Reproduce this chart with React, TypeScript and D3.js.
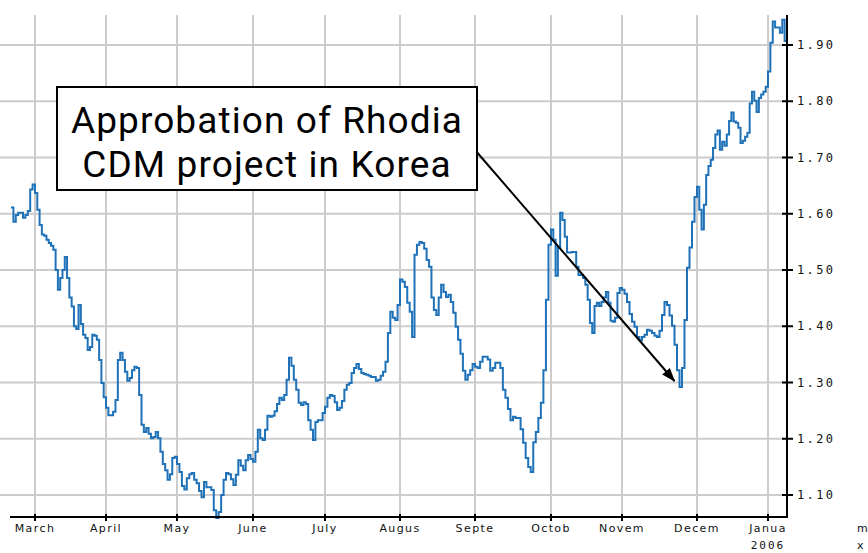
import * as d3 from "d3";

// daily closes, each array starts on the first day of its month (feb starts on the 19th)
const feb = [1.611, 1.586, 1.598, 1.602, 1.602, 1.593, 1.598, 1.605, 1.643, 1.652];
const mar = [1.637, 1.607, 1.58, 1.563, 1.561, 1.554, 1.548, 1.543, 1.536, 1.5, 1.465, 1.486, 1.5, 1.523, 1.486, 1.451, 1.435, 1.4, 1.395, 1.438, 1.404, 1.385, 1.379, 1.358, 1.363, 1.385, 1.383, 1.376, 1.34, 1.299, 1.274];
const apr = [1.255, 1.242, 1.242, 1.248, 1.269, 1.34, 1.353, 1.34, 1.319, 1.303, 1.308, 1.322, 1.328, 1.326, 1.278, 1.225, 1.212, 1.219, 1.209, 1.201, 1.203, 1.212, 1.201, 1.177, 1.155, 1.144, 1.127, 1.137, 1.166, 1.168];
const may = [1.155, 1.141, 1.116, 1.11, 1.13, 1.137, 1.139, 1.127, 1.121, 1.107, 1.096, 1.123, 1.114, 1.114, 1.109, 1.073, 1.059, 1.07, 1.1, 1.127, 1.139, 1.137, 1.128, 1.118, 1.136, 1.162, 1.152, 1.144, 1.162, 1.171, 1.164];
const jun = [1.159, 1.177, 1.216, 1.201, 1.198, 1.216, 1.241, 1.239, 1.241, 1.249, 1.262, 1.273, 1.269, 1.278, 1.305, 1.344, 1.33, 1.305, 1.287, 1.264, 1.26, 1.265, 1.262, 1.233, 1.216, 1.198, 1.23, 1.233, 1.233, 1.246];
const jul = [1.257, 1.273, 1.278, 1.276, 1.265, 1.251, 1.255, 1.267, 1.287, 1.296, 1.299, 1.317, 1.326, 1.333, 1.324, 1.317, 1.315, 1.314, 1.312, 1.31, 1.31, 1.303, 1.305, 1.312, 1.319, 1.337, 1.388, 1.426, 1.415, 1.411, 1.438];
const aug = [1.483, 1.479, 1.47, 1.442, 1.426, 1.381, 1.527, 1.545, 1.55, 1.548, 1.538, 1.518, 1.506, 1.451, 1.429, 1.42, 1.451, 1.474, 1.461, 1.452, 1.456, 1.443, 1.424, 1.399, 1.376, 1.351, 1.321, 1.305, 1.314, 1.322, 1.333];
const sep = [1.328, 1.326, 1.337, 1.346, 1.346, 1.341, 1.321, 1.326, 1.335, 1.335, 1.326, 1.287, 1.273, 1.253, 1.233, 1.239, 1.237, 1.237, 1.217, 1.193, 1.166, 1.15, 1.141, 1.194, 1.212, 1.237, 1.264, 1.322, 1.447, 1.545];
const oct = [1.572, 1.554, 1.49, 1.54, 1.602, 1.589, 1.559, 1.531, 1.531, 1.532, 1.532, 1.506, 1.491, 1.491, 1.486, 1.474, 1.447, 1.406, 1.388, 1.436, 1.442, 1.436, 1.443, 1.451, 1.461, 1.442, 1.41, 1.408, 1.415, 1.459, 1.468];
const nov = [1.465, 1.458, 1.443, 1.422, 1.408, 1.399, 1.381, 1.375, 1.381, 1.385, 1.394, 1.392, 1.388, 1.383, 1.381, 1.392, 1.42, 1.443, 1.438, 1.419, 1.401, 1.367, 1.322, 1.292, 1.326, 1.411, 1.504, 1.54, 1.586, 1.63];
const dec = [1.648, 1.607, 1.572, 1.616, 1.669, 1.685, 1.696, 1.717, 1.741, 1.748, 1.714, 1.728, 1.721, 1.741, 1.765, 1.78, 1.764, 1.762, 1.753, 1.726, 1.73, 1.737, 1.744, 1.796, 1.817, 1.801, 1.781, 1.806, 1.812, 1.817, 1.826];
const jan = [1.853, 1.904, 1.942, 1.931, 1.931, 1.922, 1.945, 1.907, 1.9];

const monthLabels = ["March", "April", "May", "June", "July", "Augus", "Septe", "Octob", "Novem", "Decem", "Janua"];
const yTicks = [1.1, 1.2, 1.3, 1.4, 1.5, 1.6, 1.7, 1.8, 1.9];
const noteLines = ["Approbation of Rhodia", "CDM project in Korea"];

// trading-day axis: month starts are not evenly spaced, so the time scale is piecewise
const axisDates = ["2005-02-19", "2005-03-01", "2005-04-01", "2005-05-01", "2005-06-01", "2005-07-01", "2005-08-01", "2005-09-01", "2005-10-01", "2005-11-01", "2005-12-01", "2006-01-01", "2006-01-09"];
const axisStops = [11, 35, 106, 177, 253, 325, 400, 475, 551, 622, 697, 768, 787];

const months = [
  { y: 2005, m: 1, first: 19, values: feb },
  { y: 2005, m: 2, first: 1, values: mar },
  { y: 2005, m: 3, first: 1, values: apr },
  { y: 2005, m: 4, first: 1, values: may },
  { y: 2005, m: 5, first: 1, values: jun },
  { y: 2005, m: 6, first: 1, values: jul },
  { y: 2005, m: 7, first: 1, values: aug },
  { y: 2005, m: 8, first: 1, values: sep },
  { y: 2005, m: 9, first: 1, values: oct },
  { y: 2005, m: 10, first: 1, values: nov },
  { y: 2005, m: 11, first: 1, values: dec },
  { y: 2006, m: 0, first: 1, values: jan }
];

type Point = { date: Date; value: number };

export default function App() {
  const width = 868;
  const height = 553;
  const top = 15;
  const bottom = 517;
  const right = 787;

  const parse = d3.timeParse("%Y-%m-%d");
  const x = d3
    .scaleTime()
    .domain(axisDates.map((d) => parse(d) as Date))
    .range(axisStops);
  const y = d3.scaleLinear().domain([1.1, 1.9]).range([495, 45]);

  const series: Point[] = months.flatMap((mo) =>
    mo.values.map((v, i) => ({ date: new Date(mo.y, mo.m, mo.first + i), value: v }))
  );

  const line = d3
    .line<Point>()
    .x((d) => x(d.date))
    .y((d) => y(d.value))
    .curve(d3.curveStepAfter);

  const monthTicks = x.ticks(d3.timeMonth.every(1)).filter((d) => d.getDate() === 1);
  const fmt = d3.format(".2f");

  // arrow points at the November low
  const low = series
    .filter((d) => d.date.getMonth() === 10)
    .reduce((a, b) => (b.value < a.value ? b : a));
  const box = { x: 57, y: 87, w: 420, h: 103 };
  const tipX = x(low.date) - 5;
  const tipY = y(low.value) - 6;

  const tickFont = "'DejaVu Sans Mono', monospace";

  return (
    <svg
      width={width}
      height={height}
      viewBox={`0 0 ${width} ${height}`}
      style={{ position: "absolute", left: 0, top: 0, background: "#ffffff" }}
    >
      <defs>
        <marker id="arrowhead" markerWidth="14" markerHeight="10" refX="13" refY="5" orient="auto" markerUnits="userSpaceOnUse">
          <path d="M0,0 L14,5 L0,10 Z" fill="#000" />
        </marker>
      </defs>
      <rect x={0} y={0} width={width} height={height} fill="#ffffff" />

      {yTicks.map((t) => (
        <line key={`gy-${t}`} x1={0} x2={right} y1={y(t)} y2={y(t)} stroke="#cccccc" strokeWidth={2} />
      ))}
      {monthTicks.map((d) => (
        <line key={`gx-${+d}`} x1={x(d)} x2={x(d)} y1={top} y2={bottom} stroke="#cccccc" strokeWidth={2} />
      ))}

      <path d={line(series) ?? ""} fill="none" stroke="#1f72b8" strokeWidth={2} />

      <line x1={10} x2={right + 1} y1={bottom} y2={bottom} stroke="#000" strokeWidth={2} />
      <line x1={right} x2={right} y1={top} y2={bottom + 1} stroke="#000" strokeWidth={2} />

      {monthTicks.map((d, i) => (
        <g key={`mt-${+d}`}>
          <line x1={x(d)} x2={x(d)} y1={bottom - 3} y2={bottom + 4} stroke="#000" strokeWidth={2} />
          <text
            x={x(d)}
            y={532}
            textAnchor="middle"
            fontFamily="'DejaVu Sans', sans-serif"
            fontSize={11}
            letterSpacing={1.4}
            fill="#111"
          >
            {monthLabels[i]}
          </text>
        </g>
      ))}
      <text x={x(monthTicks[monthTicks.length - 1])} y={549} textAnchor="middle" fontFamily={tickFont} fontSize={11} letterSpacing={2} fill="#111">
        2006
      </text>

      {yTicks.map((t) => (
        <g key={`yt-${t}`}>
          <line x1={right - 5} x2={right + 6} y1={y(t)} y2={y(t)} stroke="#000" strokeWidth={2} />
          <text x={797} y={y(t) + 4} fontFamily={tickFont} fontSize={12} letterSpacing={2.4} fill="#111">
            {fmt(t)}
          </text>
        </g>
      ))}

      <text x={857} y={532} fontFamily="'DejaVu Sans', sans-serif" fontSize={11} fill="#111">m</text>
      <text x={857} y={549} fontFamily="'DejaVu Sans', sans-serif" fontSize={11} fill="#111">x</text>

      <line
        x1={box.x + box.w - 2}
        y1={box.y + 63}
        x2={tipX}
        y2={tipY}
        stroke="#000"
        strokeWidth={2}
        markerEnd="url(#arrowhead)"
      />
      <rect x={box.x} y={box.y} width={box.w} height={box.h} fill="#ffffff" stroke="#000" strokeWidth={2} />
      {noteLines.map((t, i) => (
        <text
          key={t}
          x={box.x + box.w / 2}
          y={box.y + 46 + i * 44}
          textAnchor="middle"
          fontFamily="Roboto, sans-serif"
          fontSize={37}
          letterSpacing={1.1}
          fill="#000"
        >
          {t}
        </text>
      ))}
    </svg>
  );
}
